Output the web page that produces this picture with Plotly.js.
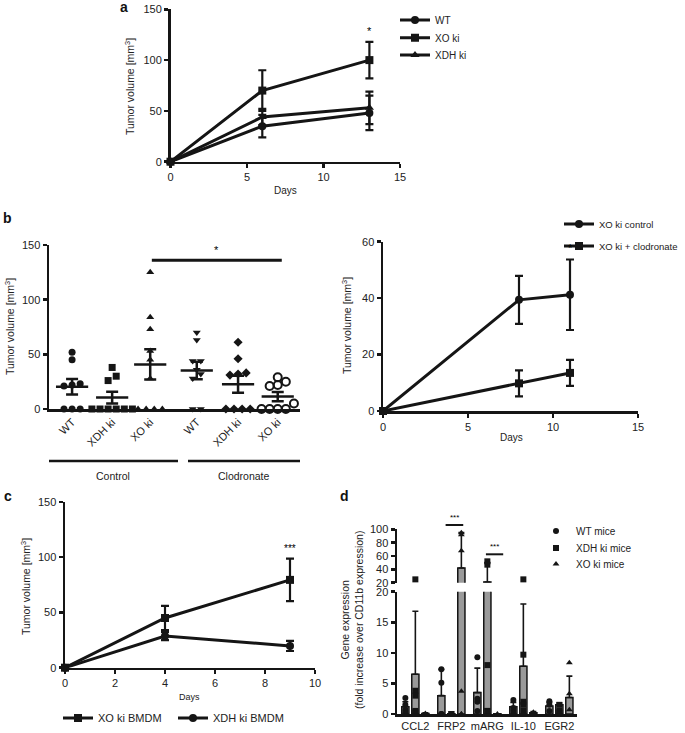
<!DOCTYPE html>
<html>
<head>
<meta charset="utf-8">
<script src="https://cdn.plot.ly/plotly-3.0.1.min.js"></script>
<style>html,body{margin:0;padding:0;background:#fff;}#chart{width:685px;height:733px;}</style>
</head>
<body>
<div id="chart"></div>
<script>
// ---------------- DATA ----------------
// Panel a
const daysA = [0, 6, 13];
const aWT = [0, 35, 48];
const aWTerr = [0, 11, 17];
const aXO = [0, 70, 100];
const aXOerr = [0, 20, 18];
const aXDH = [0, 44, 53];
const aXDHerr = [0, 8, 16];

// Panel b (left): individual tumour volumes
const bGroups = ['WT', 'XDH ki', 'XO ki', 'WT', 'XDH ki', 'XO ki'];
const bCtrlWT = [0, 0, 0, 22, 21, 23, 45, 52];
const bCtrlXDH = [0, 0, 0, 0, 0, 0, 38, 30, 26];
const bCtrlXO = [0, 0, 0, 0, 125, 84, 73, 53, 45, 28];
const bClodWT = [0, 0, 70, 63, 44, 44, 36, 32, 28];
const bClodXDH = [0, 0, 0, 0, 61, 46, 32, 33, 31];
const bClodXO = [0, 0, 0, 0, 29, 22, 21, 25, 5];

// Panel b (right)
const daysB = [0, 8, 11];
const bXOctrl = [0, 39.4, 41.2];
const bXOctrlErr = [0, 8.5, 12.5];
const bXOclod = [0, 9.8, 13.5];
const bXOclodErr = [0, 4.6, 4.6];

// Panel c
const daysC = [0, 4, 9];
const cXO = [0, 45, 79.5];
const cXOerr = [0, 11, 19.3];
const cXDH = [0, 28.7, 19.7];
const cXDHerr = [0, 3.8, 4.6];

// Panel d
const genes = ['CCL2', 'FRP2', 'mARG', 'IL-10', 'EGR2'];
const dWTmean = [1.2, 3.0, 3.5, 1.2, 1.3];
const dWTerr = [0.8, 4.3, 4.0, 0.7, 0.6];
const dXDHmean = [6.5, 0.05, 21, 7.8, 1.5];
const dXDHerr = [10.3, 0, 29, 10.2, 0.3];
const dXOmean = [0.1, 42, 0.05, 0.2, 2.7];
const dXOerr = [0.1, 53, 0, 0.2, 3.5];
const dWTpts = [[2.6, 1.5, 0.7, 0.3], [7.3, 5.1, 0, 0], [9.3, 2.5, 2.0, 0.5], [2.3, 1.0, 0.6, 0.2], [2.1, 1.5, 0.5]];
const dXDHpts = [[25, 3.8, 3.0, 0.5, 0.3], [0, 0], [52, 47, 8, 0.5, 0.5], [25, 9.7, 2, 1.5, 0.5], [1.5, 0.5, 0.3]];
const dXOpts = [[0.1], [95, 92, 68, 3.7, 0, 0], [0], [0.3], [8.4, 3.3, 0.7]];

// ---------------- LAYOUT HELPERS ----------------
const W = 685, H = 733;
const px = v => v / W;
const py = v => 1 - v / H;
const FONT = 'Liberation Sans, Arial, sans-serif';
const INK = '#151515';
const TXT = '#222222';

function axis(extra) {
  return Object.assign({
    showline: true, linewidth: 2.5, linecolor: INK, mirror: false,
    ticks: 'outside', ticklen: 4, tickwidth: 2.5, tickcolor: INK,
    showgrid: false, zeroline: false, fixedrange: true, automargin: false,
    tickfont: {family: FONT, size: 11, color: TXT}
  }, extra);
}

function lineTrace(x, y, err, name, symbol, xa, ya, legend) {
  return {
    type: 'scatter', mode: 'lines+markers', x: x, y: y, name: name,
    xaxis: xa, yaxis: ya, legend: legend, cliponaxis: false,
    line: {color: INK, width: 3},
    marker: {symbol: symbol, size: 8, color: INK},
    error_y: {type: 'data', array: err, visible: true, color: INK, thickness: 2.2, width: 4}
  };
}

const traces = [];

// Panel a
traces.push(lineTrace(daysA, aWT, aWTerr, 'WT', 'circle', 'x', 'y', 'legend'));
traces.push(lineTrace(daysA, aXO, aXOerr, 'XO ki', 'square', 'x', 'y', 'legend2'));
traces.push(lineTrace(daysA, aXDH, aXDHerr, 'XDH ki', 'triangle-up', 'x', 'y', 'legend3'));

// Panel b left: dot plot with mean +/- SEM
const bPos = [0.57, 1.56, 2.5, 3.65, 4.67, 5.65];
const bSets = [bCtrlWT, bCtrlXDH, bCtrlXO, bClodWT, bClodXDH, bClodXO];
const bSymbols = ['circle', 'square', 'triangle-up', 'triangle-down', 'diamond', 'circle-open'];
function swarm(vals, center) {
  const idx = vals.map((v, i) => i).sort((a, b) => vals[a] - vals[b]);
  const xs = new Array(vals.length);
  let i = 0;
  while (i < idx.length) {
    let j = i;
    while (j + 1 < idx.length && vals[idx[j + 1]] - vals[idx[i]] < 6) j++;
    const k = j - i + 1;
    for (let m = 0; m < k; m++) xs[idx[i + m]] = center + (m - (k - 1) / 2) * 0.2;
    i = j + 1;
  }
  return xs;
}
bSets.forEach((vals, g) => {
  const n = vals.length;
  const mean = vals.reduce((s, v) => s + v, 0) / n;
  const sd = Math.sqrt(vals.reduce((s, v) => s + (v - mean) * (v - mean), 0) / (n - 1));
  const sem = sd / Math.sqrt(n);
  traces.push({
    type: 'scatter', mode: 'markers', x: swarm(vals, bPos[g]), y: vals,
    xaxis: 'x2', yaxis: 'y2', showlegend: false, cliponaxis: false,
    marker: {symbol: bSymbols[g], size: bSymbols[g] === 'circle-open' ? 8 : 7, color: INK,
             line: {color: INK, width: bSymbols[g] === 'circle-open' ? 2 : 0}}
  });
  traces.push({
    type: 'scatter', mode: 'markers', x: [bPos[g]], y: [mean],
    xaxis: 'x2', yaxis: 'y2', showlegend: false, cliponaxis: false,
    marker: {symbol: 'line-ew', size: 23, color: INK, line: {color: INK, width: 2.5}},
    error_y: {type: 'data', array: [sem], visible: true, color: INK, thickness: 2.5, width: 6}
  });
});

// Panel b right
traces.push(lineTrace(daysB, bXOctrl, bXOctrlErr, 'XO ki control', 'circle', 'x3', 'y3', 'legend4'));
traces.push(lineTrace(daysB, bXOclod, bXOclodErr, 'XO ki + clodronate', 'square', 'x3', 'y3', 'legend5'));

// Panel c
traces.push(lineTrace(daysC, cXO, cXOerr, 'XO ki BMDM', 'square', 'x4', 'y4', 'legend6'));
traces.push(lineTrace(daysC, cXDH, cXDHerr, 'XDH ki BMDM', 'circle', 'x4', 'y4', 'legend7'));

// Panel d: broken-axis bar chart
const dOff = [-0.278, 0, 0.278];
const dMeans = [dWTmean, dXDHmean, dXOmean];
const dErrs = [dWTerr, dXDHerr, dXOerr];
const dPts = [dWTpts, dXDHpts, dXOpts];
const dNames = ['WT mice', 'XDH ki mice', 'XO ki mice'];
const dSyms = ['circle', 'square', 'triangle-up'];
const dLegends = ['legend8', 'legend9', 'legend10'];
['y5', 'y6'].forEach((ya, seg) => {
  for (let g = 0; g < 3; g++) {
    traces.push({
      type: 'bar', x: genes.map((_, i) => i + dOff[g]), y: dMeans[g], width: 0.2,
      xaxis: 'x5', yaxis: ya, showlegend: false,
      marker: {color: '#9a9a9a', line: {color: INK, width: 1.5}},
      error_y: {type: 'data', symmetric: false, array: dErrs[g], arrayminus: dErrs[g].map(() => 0),
                visible: true, color: INK, thickness: 1.6, width: 3}
    });
  }
});
['y5', 'y6'].forEach((ya, seg) => {
  for (let g = 0; g < 3; g++) {
    const xs = [], ys = [];
    dPts[g].forEach((arr, i) => arr.forEach(v => {
      if ((seg === 0 && v <= 20) || (seg === 1 && v > 20)) { xs.push(i + dOff[g]); ys.push(v); }
    }));
    traces.push({
      type: 'scatter', mode: 'markers', x: xs, y: ys, name: dNames[g],
      xaxis: 'x5', yaxis: ya, legend: dLegends[g], showlegend: seg === 0, cliponaxis: false,
      marker: {symbol: dSyms[g], size: 6, color: INK}
    });
  }
});

// ---------------- LAYOUT ----------------
const ann = (x, y, text, opt) => Object.assign({
  xref: 'paper', yref: 'paper', x: px(x), y: py(y), text: text, showarrow: false,
  font: {family: FONT, size: 10.5, color: TXT}, xanchor: 'center', yanchor: 'middle'
}, opt || {});

// one legend per entry so that each entry sits where the reference shows it
const legendAt = (x, y, size) => ({
  font: {family: FONT, size: size, color: TXT}, bgcolor: 'rgba(0,0,0,0)',
  x: px(x), y: py(y), xanchor: 'left', yanchor: 'middle', itemwidth: 30, tracegroupgap: 0
});

const layout = {
  width: W, height: H, margin: {l: 0, r: 0, t: 0, b: 0, autoexpand: false},
  paper_bgcolor: '#fff', plot_bgcolor: 'rgba(0,0,0,0)',
  font: {family: FONT, size: 10, color: TXT},
  barmode: 'overlay',
  xaxis: axis({domain: [px(170.5), px(400)], anchor: 'y', range: [0, 15], dtick: 5}),
  yaxis: axis({domain: [py(161.7), py(9.3)], anchor: 'x', range: [0, 150], dtick: 50}),
  xaxis2: axis({domain: [px(49), px(300)], anchor: 'y2', range: [0, 6.2], ticks: '',
                tickvals: bPos, ticktext: bGroups, tickangle: -45}),
  yaxis2: axis({domain: [py(409), py(245)], anchor: 'x2', range: [0, 150], dtick: 50}),
  xaxis3: axis({domain: [px(383), px(638)], anchor: 'y3', range: [0, 15], dtick: 5}),
  yaxis3: axis({domain: [py(411), py(241.7)], anchor: 'x3', range: [0, 60], dtick: 20}),
  xaxis4: axis({domain: [px(65), px(315)], anchor: 'y4', range: [0, 10], dtick: 2}),
  yaxis4: axis({domain: [py(667.7), py(502)], anchor: 'x4', range: [0, 150], dtick: 50}),
  xaxis5: axis({domain: [px(397), px(577)], anchor: 'y5', range: [-0.51, 4.49], ticks: '',
                tickvals: [0, 1, 2, 3, 4], ticktext: genes}),
  yaxis5: axis({domain: [py(714), py(591.7)], anchor: 'x5', range: [0, 20], tickvals: [0, 5, 10, 15, 20]}),
  yaxis6: axis({domain: [py(582.7), py(529.3)], anchor: 'x5', range: [20, 100], tickvals: [20, 40, 60, 80, 100]}),
  legend: legendAt(395, 20, 10),
  legend2: legendAt(395, 37.7, 10),
  legend3: legendAt(395, 55, 10),
  legend4: legendAt(559, 224, 9.5),
  legend5: legendAt(559, 246, 9.5),
  legend6: legendAt(58, 718, 11),
  legend7: legendAt(173, 718, 11),
  legend8: legendAt(536, 531, 10),
  legend9: legendAt(536, 548, 10),
  legend10: legendAt(536, 564, 10),
  shapes: [
    // b left significance bar
    {type: 'line', xref: 'x2', yref: 'y2', x0: bPos[2] + 0.04, x1: bPos[5] + 0.1, y0: 136, y1: 136,
     line: {color: INK, width: 3}},
    // group underlines
    {type: 'line', xref: 'paper', yref: 'paper', x0: px(49), x1: px(178), y0: py(461), y1: py(461), line: {color: INK, width: 2.5}},
    {type: 'line', xref: 'paper', yref: 'paper', x0: px(188), x1: px(300), y0: py(461), y1: py(461), line: {color: INK, width: 2.5}},
    // d significance bars
    {type: 'line', xref: 'x5', yref: 'paper', x0: 1 - 0.16, x1: 1 + 0.33, y0: py(525), y1: py(525), line: {color: INK, width: 2}},
    {type: 'line', xref: 'x5', yref: 'paper', x0: 2 - 0.04, x1: 2 + 0.44, y0: py(554.3), y1: py(554.3), line: {color: INK, width: 2}}
  ],
  annotations: [
    ann(124, 7, '<b>a</b>', {font: {family: FONT, size: 14, color: '#111'}}),
    ann(7, 218, '<b>b</b>', {font: {family: FONT, size: 14, color: '#111'}}),
    ann(8, 496, '<b>c</b>', {font: {family: FONT, size: 14, color: '#111'}}),
    ann(344, 496, '<b>d</b>', {font: {family: FONT, size: 14, color: '#111'}}),
    ann(130, 87, 'Tumor volume [mm<sup>3</sup>]', {textangle: -90}),
    ann(9, 327, 'Tumor volume [mm<sup>3</sup>]', {textangle: -90}),
    ann(347, 326, 'Tumor volume [mm<sup>3</sup>]', {textangle: -90}),
    ann(25, 586, 'Tumor volume [mm<sup>3</sup>]', {textangle: -90}),
    ann(352, 620, 'Gene expression<br>(fold increase over CD11b expression)', {textangle: -90}),
    ann(285, 190, 'Days', {font: {family: FONT, size: 10, color: TXT}}),
    ann(511, 438, 'Days', {font: {family: FONT, size: 10, color: TXT}}),
    ann(189, 697, 'Days', {font: {family: FONT, size: 9, color: TXT}}),
    ann(113, 476, 'Control'),
    ann(244, 476, 'Clodronate'),
    {xref: 'x', yref: 'y', x: 13, y: 121, text: '*', showarrow: false, yanchor: 'bottom', font: {family: FONT, size: 11, color: '#000'}},
    {xref: 'x2', yref: 'y2', x: (bPos[2] + bPos[5]) / 2 + 0.07, y: 138, text: '*', showarrow: false, yanchor: 'bottom', font: {family: FONT, size: 11, color: '#000'}},
    {xref: 'x3', yref: 'y3', x: 11, y: 55, text: '*', showarrow: false, yanchor: 'bottom', font: {family: FONT, size: 11, color: '#000'}},
    {xref: 'x4', yref: 'y4', x: 9, y: 101, text: '***', showarrow: false, yanchor: 'bottom', font: {family: FONT, size: 10, color: '#000'}},
    {xref: 'x5', yref: 'paper', x: 1 + 0.085, y: py(524), text: '***', showarrow: false, yanchor: 'bottom', font: {family: FONT, size: 8, color: '#000'}},
    {xref: 'x5', yref: 'paper', x: 2 + 0.2, y: py(553.3), text: '***', showarrow: false, yanchor: 'bottom', font: {family: FONT, size: 8, color: '#000'}}
  ]
};

Plotly.newPlot('chart', traces, layout, {staticPlot: true, displayModeBar: false});
</script>
</body>
</html>
